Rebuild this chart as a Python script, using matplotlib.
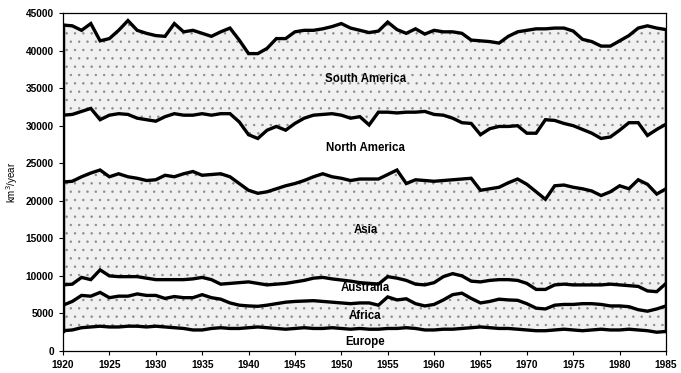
import numpy as np
import matplotlib
matplotlib.use("Agg")
import matplotlib.pyplot as plt

years = list(range(1920, 1986))

# Annual runoff, km3/year
europe = [2.7, 2.8, 3.1, 3.2, 3.3, 3.2, 3.2, 3.3, 3.3, 3.2, 3.3, 3.2, 3.1, 3.0, 2.8, 2.8,
          3.0, 3.1, 3.0, 3.0, 3.1, 3.2, 3.1, 3.0, 2.9, 3.0, 3.1, 3.0, 3.0, 3.1, 3.0, 2.9,
          3.0, 2.9, 2.9, 3.0, 3.0, 3.1, 3.0, 2.8, 2.8, 2.9, 2.9, 3.0, 3.1, 3.2, 3.1, 3.0,
          3.0, 2.9, 2.8, 2.7, 2.7, 2.8, 2.9, 2.8, 2.7, 2.8, 2.9, 2.8, 2.8, 2.9, 2.8, 2.7,
          2.5, 2.6]
africa = [3.4, 3.8, 4.3, 4.1, 4.5, 3.9, 4.1, 4.0, 4.3, 4.2, 4.1, 3.8, 4.15, 4.1, 4.3, 4.7,
          4.1, 3.8, 3.4, 3.1, 2.9, 2.75, 3.0, 3.3, 3.6, 3.6, 3.55, 3.7, 3.6, 3.4, 3.4, 3.4,
          3.4, 3.5, 3.2, 4.2, 3.8, 3.85, 3.3, 3.2, 3.4, 3.9, 4.6, 4.7, 3.9, 3.2, 3.5, 3.9,
          3.8, 3.85, 3.5, 3.0, 2.9, 3.3, 3.3, 3.4, 3.6, 3.5, 3.3, 3.2, 3.2, 3.0, 2.7, 2.6,
          3.1, 3.4]
australia = [2.7, 2.3, 2.4, 2.2, 3.0, 2.9, 2.6, 2.6, 2.3, 2.3, 2.1, 2.5, 2.25, 2.4, 2.5, 2.3,
             2.4, 2.0, 2.6, 3.0, 3.2, 3.05, 2.7, 2.6, 2.5, 2.6, 2.75, 3.0, 3.2, 3.1, 3.05, 3.0,
             2.7, 2.6, 2.8, 2.7, 2.9, 2.45, 2.6, 2.8, 2.9, 3.1, 2.8, 2.3, 2.3, 2.8, 2.8, 2.6,
             2.7, 2.65, 2.7, 2.5, 2.6, 2.7, 2.7, 2.6, 2.5, 2.5, 2.6, 2.9, 2.8, 2.8, 3.1, 2.7,
             2.3, 3.0]
asia = [13.7, 13.7, 13.4, 14.2, 13.3, 13.2, 13.7, 13.3, 13.1, 13.0, 13.3, 13.9, 13.7, 14.1, 14.3, 13.6,
        14.0, 14.7, 14.2, 13.2, 12.2, 12.0, 12.4, 12.7, 13.0, 13.1, 13.3, 13.5, 13.8, 13.6, 13.55, 13.4,
        13.8, 13.9, 14.0, 13.6, 14.4, 12.9, 13.9, 13.9, 13.5, 12.8, 12.5, 12.9, 13.7, 12.2, 12.2, 12.3,
        12.9, 13.5, 13.2, 13.0, 12.0, 13.2, 13.2, 13.0, 12.8, 12.5, 11.9, 12.3, 13.2, 12.9, 14.2, 14.2,
        13.0, 12.6]
north_america = [8.9, 8.9, 8.7, 8.6, 6.7, 8.2, 8.0, 8.3, 8.0, 8.1, 7.8, 7.8, 8.4, 7.8, 7.5, 8.2,
                 7.9, 8.0, 8.4, 8.2, 7.4, 7.3, 8.2, 8.3, 7.4, 8.0, 8.3, 8.2, 7.9, 8.4, 8.4, 8.3,
                 8.3, 7.2, 8.9, 8.3, 7.6, 9.5, 9.0, 9.2, 8.9, 8.7, 8.2, 7.5, 7.3, 7.4, 8.0, 8.1,
                 7.5, 7.1, 6.8, 7.8, 10.6, 8.7, 8.2, 8.2, 7.9, 7.7, 7.6, 7.3, 7.4, 8.8, 7.6, 6.5,
                 8.6, 8.6]
south_america = [12.0, 11.8, 10.8, 11.3, 10.5, 10.2, 11.1, 12.5, 11.7, 11.5, 11.4, 10.7, 12.0, 11.1, 11.3, 10.7,
                 10.5, 10.9, 11.4, 10.9, 10.8, 11.3, 10.9, 11.7, 12.2, 12.2, 11.7, 11.3, 11.4, 11.6, 12.2, 12.0,
                 11.5, 12.3, 10.8, 12.0, 11.1, 10.5, 11.1, 10.3, 11.2, 11.1, 11.5, 11.9, 11.1, 12.5, 11.6, 11.1,
                 12.0, 12.5, 13.7, 13.9, 12.1, 12.3, 12.7, 12.6, 12.0, 12.2, 12.3, 12.1, 11.9, 11.6, 12.6, 14.6,
                 13.5, 12.6]

names = ["Europe", "Africa", "Australia", "Asia", "North America", "South America"]
series = [europe, africa, australia, asia, north_america, south_america]
label_pos = {"Europe": 1150, "Africa": 4650, "Australia": 8350, "Asia": 16100,
             "North America": 27000, "South America": 36200}

plt.rcParams['font.family'] = ['Liberation Sans', 'DejaVu Sans']
plt.rcParams['hatch.color'] = '#8a8a8a'
plt.rcParams['hatch.linewidth'] = 0.5

fig = plt.figure(figsize=(6.81, 3.73), dpi=100)
ax = fig.add_axes([0.0925, 0.059, 0.8855, 0.906])

x = np.array(years)
vals = np.array(series) * 1000.0
tops = np.cumsum(vals, axis=0)
bottoms = np.vstack([np.zeros(len(x)), tops[:-1]])

for i, name in enumerate(names):
    stippled = i % 2 == 1
    if stippled:
        ax.fill_between(x, bottoms[i], tops[i], facecolor='#f1f1f1', edgecolor='none',
                        hatch='..', linewidth=0, zorder=1)
    ax.plot(x, tops[i], color='black', lw=2.4, solid_joinstyle='miter', zorder=3)

# left and right edges of the shaded bands
ax.plot([x[0], x[0]], [tops[0][0], tops[-1][0]], color='black', lw=2.5, zorder=3)
ax.plot([x[-1], x[-1]], [tops[0][-1], tops[-1][-1]], color='black', lw=2.5, zorder=3)

for name in names:
    ax.text(1952.6, label_pos[name], name, ha='center', va='center', fontsize=8.3,
            fontweight='bold', zorder=4)

ax.set_xlim(1920, 1985)
ax.set_ylim(0, 45000)
ax.set_xticks(range(1920, 1986, 5))
ax.set_yticks(range(0, 45001, 5000))
ax.tick_params(axis='both', labelsize=7.3, length=3, width=0.8, direction='out')
for lab in ax.get_xticklabels() + ax.get_yticklabels():
    lab.set_fontweight('bold')
ax.set_ylabel('km$^3$/year', fontsize=7, labelpad=4)
for s in ax.spines.values():
    s.set_linewidth(0.9)

fig.savefig('out.png', dpi=100)
